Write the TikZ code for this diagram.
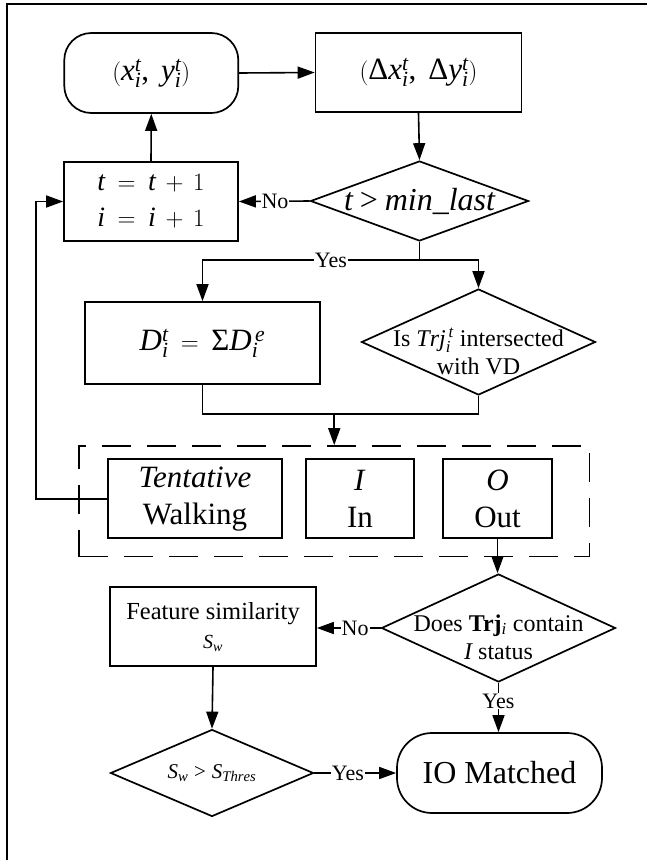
\documentclass[tikz,border=0pt]{standalone}
\usepackage{fontspec}
\setmainfont{Liberation Serif}
\usetikzlibrary{arrows.meta,shapes.geometric}

% Math letters, digits and a few symbols are taken from the text face
\begingroup\edef\x{\endgroup
  \noexpand\DeclareSymbolFont{txtit}{TU}{\rmdefault}{m}{it}%
  \noexpand\DeclareSymbolFont{txtrm}{TU}{\rmdefault}{m}{n}}\x
\newcount\mcode
\mcode=`a
\loop
  \Umathcode\mcode="7 \symtxtit \mcode
  \ifnum\mcode<`z \advance\mcode by 1
\repeat
\mcode=`A
\loop
  \Umathcode\mcode="7 \symtxtit \mcode
  \ifnum\mcode<`Z \advance\mcode by 1
\repeat
\mcode=`0
\loop
  \Umathcode\mcode="7 \symtxtrm \mcode
  \ifnum\mcode<`9 \advance\mcode by 1
\repeat
\Umathcode `\( = "4 \symtxtrm `\(
\Umathcode `\) = "5 \symtxtrm `\)
\Umathcode `\, = "6 \symtxtrm `\,
\Umathcode `\= = "3 \symtxtrm `\=
\Umathcode `\+ = "2 \symtxtrm `\+
\Umathcode `\> = "3 \symtxtrm `\>
\Umathchardef\tDelta = "0 \symtxtrm "0394
\Umathchardef\tSigma = "0 \symtxtrm "03A3

\newcommand\fsz[2]{\fontsize{#1}{#2}\selectfont}
\newcommand\widemath{\thickmuskip=9mu plus 2mu\medmuskip=7mu plus 2mu}

\tikzset{
  box/.style={draw, line width=1.7pt, rectangle, inner sep=0pt},
  rbox/.style={box, rounded corners=27pt},
  dia/.style={draw, line width=1.7pt, diamond, inner sep=0pt},
  txt/.style={align=center, inner sep=0pt},
  conn/.style={line width=1.6pt},
  arr/.style={conn, -{Triangle[length=17pt,width=12pt]}},
  lbl/.style={fill=white, inner sep=1pt, font=\fsz{22}{24}},
}

\begin{document}
\begin{tikzpicture}[x=1pt,y=-1pt]
\useasboundingbox (0,0) rectangle (647,860);

% frame along the top and left edges
\draw[line width=2.2pt] (6.8,860) -- (6.8,4) -- (647,4);

% first loop
\node[rbox, minimum width=174pt, minimum height=80pt, font=\fsz{31}{34}] (a) at (151.3,73) {$(x_i^t,\ y_i^t)$};
\node[box, minimum width=206pt, minimum height=79pt, font=\fsz{31}{34}] (b) at (418.5,72.5) {$(\tDelta x_i^t,\ \tDelta y_i^t)$};
\node[dia, minimum width=218pt, minimum height=80pt] (c) at (419.5,201) {};
\node[txt, font=\fsz{32}{34}] (ct) at (c.center) {$t > min\_last$};
\node[box, minimum width=174pt, minimum height=79pt, align=center, font=\fsz{28}{36}\widemath] (d) at (151,201.5) {$t = t + 1$\\$i = i + 1$};

% second row
\node[box, minimum width=235pt, minimum height=82pt, font=\fsz{31}{34}\widemath] (e) at (202.5,343) {$D_i^t = \tSigma D_i^{\,e}$};
\node[dia, minimum width=234pt, minimum height=106pt] (f) at (478.5,342) {};
\node[txt, font=\fsz{24}{28}] (ft) at (478.5,351) {Is $Trj_i^{\,t}$ intersected\\with VD};

% status group
\node[draw, line width=1.7pt, dash pattern=on 29pt off 16pt, minimum width=510.5pt, minimum height=110.5pt, inner sep=0pt] (grp) at (334.25,501.25) {};
\node[box, minimum width=173.4pt, minimum height=79pt, align=center, font=\fsz{31}{37}] (tent) at (195,498.8) {\textit{Tentative}\\Walking};
\node[box, minimum width=108.5pt, minimum height=79pt, align=center, font=\fsz{31}{37}] (in) at (360,498.8) {\textit{I}\\In};
\node[box, minimum width=109.6pt, minimum height=79pt, align=center, font=\fsz{31}{37}] (out) at (497.5,498.8) {\textit{O}\\Out};

% matching
\node[dia, minimum width=234pt, minimum height=108pt] (g) at (498.5,628) {};
\node[txt, font=\fsz{24}{28}] (gt) at (498.5,637) {Does \textbf{Trj}$_i$ contain\\$I$ status};
\node[box, minimum width=206pt, minimum height=79pt, align=center, font=\fsz{24.5}{29}] (h) at (213,626.7) {Feature similarity\\{\fsz{20}{24}$S_w$}};
\node[dia, minimum width=203pt, minimum height=87pt] (i) at (212,773) {};
\node[txt, font=\fsz{21}{24}] (itx) at (i.center) {$S_w > S_{Thres}$};
\node[rbox, rounded corners=35pt, minimum width=205pt, minimum height=80pt, font=\fsz{32}{36}] (j) at (499.5,773) {IO Matched};

% helper coordinates for bends
\coordinate (ysplit) at (419.5,260);
\coordinate (mgy) at (0,414);
\coordinate (lpx) at (35.7,0);

% connectors
\draw[arr] (a.east) -- (b.west);
\draw[arr] (b.south) -- (c.north);
\draw[arr] (c.west) -- node[lbl, pos=0.49] {No} (d.east);
\draw[arr] (d.north) -- (a.south);
\draw[conn] (c.south) -- (ysplit);
\draw[arr] (ysplit) -| node[lbl, pos=0.204] {Yes} (e.north);
\draw[arr] (ysplit) -| (f.north);
\draw[conn] (e.south) |- (grp.north |- mgy) -| (f.south);
\draw[arr] (grp.north |- mgy) -- (grp.north);
\draw[arr] (tent.west) -- (tent.west -| lpx) |- (d.west);
\draw[arr] (out.south) -- (out.south |- g.north);
\draw[arr] (g.west) -- node[lbl, pos=0.4] {No} (g.west -| h.east);
\draw[arr] (g.south) -- node[lbl, pos=0.37] {Yes} (g.south |- j.north);
\draw[arr] (h.south) -- (i.north);
\draw[arr] (i.east) -- node[lbl, pos=0.41] {Yes} (j.west);
\end{tikzpicture}
\end{document}
